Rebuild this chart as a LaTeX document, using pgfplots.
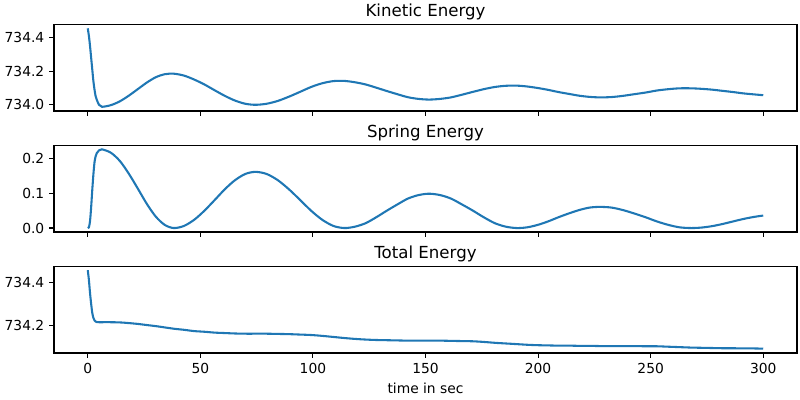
\documentclass[border=0pt]{standalone}
\usepackage{fontspec}
\setmainfont{DejaVu Sans}
\usepackage{pgfplots}
\usepackage{pgfplotstable}
\pgfplotsset{compat=1.18}
\definecolor{mplblue}{HTML}{1F77B4}

% t = time, S = spring, T = total, K = kinetic energy
\pgfplotstableread{
t     S       T        K
0     0.000   734.455  734.455
0.5   0.002   734.410  734.410
1.0   0.020   734.350  734.350
1.5   0.060   734.300  734.280
2.0   0.110   734.258  734.210
2.5   0.155   734.235  734.140
3.0   0.190   734.223  734.090
3.5   0.207   734.218  734.050
4.0   0.216   734.216  734.030
5.0   0.224   734.215  734.000
6.3   0.227   734.215  733.988
10.3  0.217   734.215  733.998
14.3  0.193   734.214  734.021
18.3  0.156   734.211  734.055
22.3  0.113   734.207  734.094
26.2  0.070   734.202  734.132
30.2  0.033   734.197  734.164
34.2  0.009   734.191  734.182
38.2  0.000   734.185  734.185
42.7  0.006   734.180  734.174
47.3  0.024   734.174  734.150
51.8  0.050   734.171  734.121
56.4  0.081   734.167  734.086
60.9  0.112   734.165  734.053
65.4  0.138   734.163  734.025
70.0  0.156   734.162  734.006
74.5  0.162   734.162  734.000
79.4  0.156   734.162  734.006
84.4  0.138   734.161  734.023
89.3  0.112   734.160  734.048
94.3  0.081   734.158  734.077
99.2  0.050   734.156  734.106
104.1 0.024   734.152  734.128
109.1 0.006   734.147  734.141
114.0 0.000   734.142  734.142
118.7 0.004   734.138  734.134
123.4 0.014   734.135  734.121
128.1 0.031   734.133  734.102
132.8 0.050   734.132  734.082
137.5 0.068   734.131  734.063
142.2 0.085   734.130  734.045
146.9 0.095   734.130  734.035
151.6 0.099   734.130  734.031
156.5 0.095   734.130  734.035
161.3 0.085   734.129  734.044
166.2 0.068   734.128  734.060
171.1 0.050   734.127  734.077
175.9 0.031   734.124  734.093
180.8 0.014   734.120  734.106
185.6 0.004   734.117  734.113
190.5 0.000   734.114  734.114
195.1 0.002   734.111  734.109
199.8 0.009   734.109  734.100
204.4 0.019   734.108  734.089
209.0 0.031   734.107  734.076
213.6 0.042   734.107  734.065
218.3 0.052   734.106  734.054
222.9 0.059   734.106  734.047
227.5 0.061   734.105  734.044
232.6 0.059   734.105  734.046
237.6 0.052   734.105  734.053
242.7 0.042   734.105  734.063
247.8 0.031   734.104  734.073
252.8 0.019   734.104  734.085
257.9 0.009   734.102  734.093
262.9 0.002   734.100  734.098
268.0 0.000   734.098  734.098
272.6 0.0014  734.097  734.095
277.3 0.0055  734.096  734.090
281.9 0.0116  734.095  734.083
286.5 0.0189  734.095  734.076
291.1 0.0260  734.094  734.068
295.8 0.0320  734.094  734.062
300.0 0.0360  734.093  734.057
}\energy

\pgfplotsset{
  panel/.style={
    scale only axis, width=7.43in, height=0.865in, anchor=south west,
    xmin=-15, xmax=315, xtick={0,50,...,300},
    axis line style={line width=0.8pt},
    tick align=outside, xtick pos=bottom, ytick pos=left,
    major tick length=3.5pt,
    every tick/.style={black, line width=0.8pt},
    tick label style={font=\fontsize{10}{12}\selectfont},
    label style={font=\fontsize{10}{12}\selectfont},
    /pgf/number format/assume math mode=true,
    scaled y ticks=false,
    yticklabel style={/pgf/number format/fixed, /pgf/number format/fixed zerofill, /pgf/number format/precision=1},
    title style={font=\fontsize{12}{14}\selectfont, anchor=base},
  },
  curve/.style={mplblue, line width=1.5pt, smooth, mark=none},
}

\begin{document}
\begin{tikzpicture}
\path[use as bounding box] (0,0) rectangle (8in,4in);

\begin{axis}[panel, at={(0.54in,2.89in)}, title={Kinetic Energy},
  ymin=733.963, ymax=734.478, ytick={734.0,734.2,734.4}, xticklabels={}]
\addplot[curve] table[x=t, y=K] {\energy};
\end{axis}

\begin{axis}[panel, at={(0.54in,1.68in)}, title={Spring Energy},
  ymin=-0.0114, ymax=0.238, ytick={0,0.1,0.2}, xticklabels={}]
\addplot[curve] table[x=t, y=S] {\energy};
\end{axis}

\begin{axis}[panel, at={(0.54in,0.47in)}, title={Total Energy},
  ymin=734.073, ymax=734.472, ytick={734.2,734.4}, xlabel={time in sec}]
\addplot[curve] table[x=t, y=T] {\energy};
\end{axis}
\end{tikzpicture}
\end{document}
